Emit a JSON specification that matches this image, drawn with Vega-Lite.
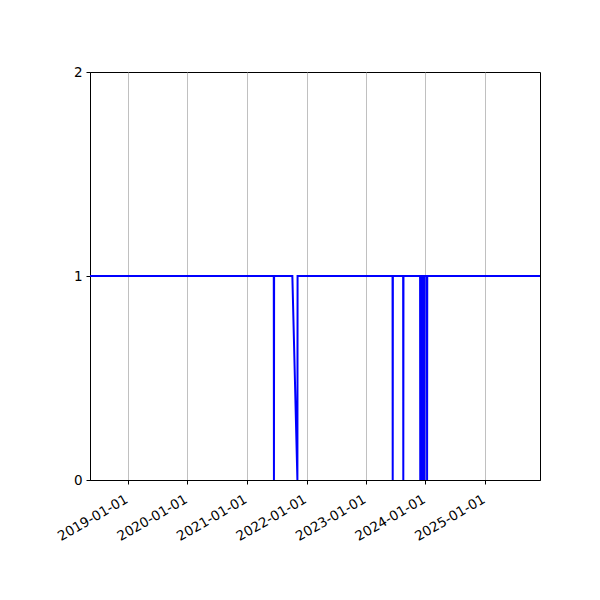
{
  "$schema": "https://vega.github.io/schema/vega-lite/v6.json",
  "width": 450,
  "height": 408,
  "autosize": {"type": "none"},
  "padding": {"left": 90, "top": 72, "right": 60, "bottom": 120},
  "background": "white",
  "config": {
    "view": {"stroke": "black", "strokeWidth": 1},
    "axis": {
      "labelFont": "DejaVu Sans",
      "labelFontSize": 13.5,
      "labelColor": "black",
      "domainColor": "black",
      "tickColor": "black",
      "tickSize": 4
    }
  },
  "data": {
    "values": [
      {"date": "2018-05-13", "value": 1},
      {"date": "2021-06-14", "value": 1},
      {"date": "2021-06-15", "value": 0},
      {"date": "2021-06-16", "value": 1},
      {"date": "2021-10-06", "value": 1},
      {"date": "2021-11-06", "value": 0},
      {"date": "2021-11-07", "value": 1},
      {"date": "2023-06-13", "value": 1},
      {"date": "2023-06-14", "value": 0},
      {"date": "2023-06-15", "value": 1},
      {"date": "2023-08-17", "value": 1},
      {"date": "2023-08-18", "value": 0},
      {"date": "2023-08-19", "value": 1},
      {"date": "2023-11-29", "value": 1},
      {"date": "2023-11-30", "value": 0},
      {"date": "2023-12-01", "value": 1},
      {"date": "2023-12-08", "value": 1},
      {"date": "2023-12-09", "value": 0},
      {"date": "2023-12-10", "value": 1},
      {"date": "2023-12-17", "value": 1},
      {"date": "2023-12-18", "value": 0},
      {"date": "2023-12-19", "value": 1},
      {"date": "2023-12-25", "value": 1},
      {"date": "2023-12-26", "value": 0},
      {"date": "2023-12-27", "value": 1},
      {"date": "2024-01-10", "value": 1},
      {"date": "2024-01-11", "value": 0},
      {"date": "2024-01-12", "value": 1},
      {"date": "2025-12-04", "value": 1}
    ]
  },
  "mark": {"type": "line", "color": "blue", "strokeWidth": 2, "interpolate": "linear"},
  "encoding": {
    "x": {
      "field": "date",
      "type": "temporal",
      "scale": {"type": "utc", "domain": ["2018-05-13", "2025-12-04"], "nice": false},
      "axis": {
        "title": null,
        "labelExpr": "utcFormat(datum.value, '%Y-%m-%d')",
        "values": [
          {"year": 2019, "month": 1, "date": 1, "utc": true},
          {"year": 2020, "month": 1, "date": 1, "utc": true},
          {"year": 2021, "month": 1, "date": 1, "utc": true},
          {"year": 2022, "month": 1, "date": 1, "utc": true},
          {"year": 2023, "month": 1, "date": 1, "utc": true},
          {"year": 2024, "month": 1, "date": 1, "utc": true},
          {"year": 2025, "month": 1, "date": 1, "utc": true}
        ],
        "labelAngle": -30,
        "labelAlign": "right",
        "labelBaseline": "top",
        "labelPadding": 8,
        "labelOffset": -5,
        "grid": true,
        "gridColor": "#b0b0b0",
        "gridWidth": 0.8,
        "labelOverlap": false,
        "labelFlush": false
      }
    },
    "y": {
      "field": "value",
      "type": "quantitative",
      "scale": {"domain": [0, 2], "nice": false, "zero": true},
      "axis": {"title": null, "values": [0, 1, 2], "format": ".0f", "grid": false, "labelPadding": 4, "labelOverlap": false}
    }
  }
}
